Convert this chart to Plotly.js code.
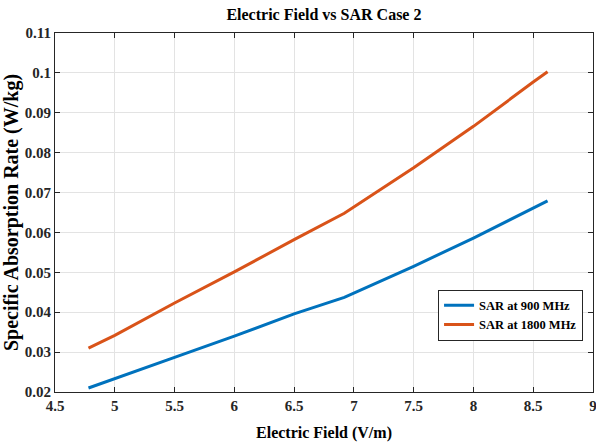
<!DOCTYPE html>
<html>
<head>
<meta charset="utf-8">
<script src="https://cdn.plot.ly/plotly-3.0.1.min.js"></script>
<style>html,body{margin:0;padding:0;background:#fff;}#chart{width:596px;height:443px;}</style>
</head>
<body>
<div id="chart"></div>
<script>
const efield = [4.78, 5.0, 5.5, 6.0, 6.5, 6.92, 7.5, 8.0, 8.5, 8.62];
const sar900 = [0.0210, 0.0233, 0.0287, 0.0340, 0.0396, 0.0437, 0.0515, 0.0586, 0.0661, 0.0679];
const sar1800 = [0.0310, 0.0342, 0.0423, 0.0501, 0.0582, 0.0648, 0.0762, 0.0866, 0.0977, 0.1003];
const seriesNames = ["SAR at 900 MHz", "SAR at 1800 MHz"];
const xTickVals = [4.5, 5, 5.5, 6, 6.5, 7, 7.5, 8, 8.5, 9];
const xTickText = ["4.5", "5", "5.5", "6", "6.5", "7", "7.5", "8", "8.5", "9"];
const yTickVals = [0.02, 0.03, 0.04, 0.05, 0.06, 0.07, 0.08, 0.09, 0.1, 0.11];
const yTickText = ["0.02", "0.03", "0.04", "0.05", "0.06", "0.07", "0.08", "0.09", "0.1", "0.11"];

const font = "Liberation Serif, Times New Roman, serif";
const bold = s => "<b>" + s + "</b>";
const traces = [
  {x: efield, y: sar900, name: bold(seriesNames[0]), mode: "lines", line: {color: "#0072BD", width: 3}},
  {x: efield, y: sar1800, name: bold(seriesNames[1]), mode: "lines", line: {color: "#D95319", width: 3}}
];
const axisCommon = {
  showline: true, linecolor: "#262626", linewidth: 1, mirror: "ticks",
  ticks: "inside", ticklen: 5, tickcolor: "#262626", tickwidth: 1,
  showgrid: true, gridcolor: "#e3e3e3", gridwidth: 1, zeroline: false,
  ticklabeloverflow: "allow",
  tickfont: {family: font, size: 15, color: "#262626"}
};
const layout = {
  width: 596, height: 443,
  margin: {l: 55, r: 3, t: 33, b: 51},
  paper_bgcolor: "#fff", plot_bgcolor: "#fff",
  showlegend: true,
  title: {text: "<b>Electric Field vs SAR Case 2</b>", x: 0.5435, xanchor: "center", y: 0.968, yanchor: "middle",
          font: {family: font, size: 16, color: "#000"}},
  xaxis: Object.assign({}, axisCommon, {
    range: [4.5, 9], tickmode: "array", tickvals: xTickVals, ticktext: xTickText.map(bold),
    title: {text: "<b>Electric Field (V/m)</b>", font: {family: font, size: 16, color: "#000"}, standoff: 13}
  }),
  yaxis: Object.assign({}, axisCommon, {
    range: [0.02, 0.11], tickmode: "array", tickvals: yTickVals, ticktext: yTickText.map(bold),
    automargin: true,
    title: {text: "<b>Specific Absorption Rate (W/kg)</b>", font: {family: font, size: 20, color: "#000"}, standoff: 2}
  }),
  legend: {
    x: 0.712, y: 0.285, xanchor: "left", yanchor: "top",
    bgcolor: "#fff", bordercolor: "#262626", borderwidth: 1,
    font: {family: font, size: 12.5, color: "#000"},
    tracegroupgap: 0, itemwidth: 30
  }
};
Plotly.newPlot("chart", traces, layout, {displayModeBar: false, staticPlot: true});
</script>
</body>
</html>
